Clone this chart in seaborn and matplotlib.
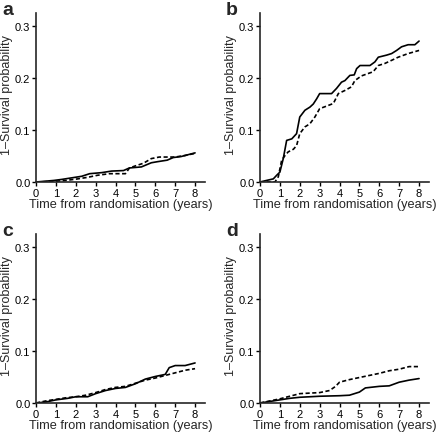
import matplotlib
matplotlib.use("Agg")
import matplotlib.pyplot as plt
import seaborn as sns

# survival curves: time (years) and 1-survival, solid and dashed groups
a_solid_t = [0, 0.9, 1.3, 1.8, 2.3, 2.7, 3.3, 3.8, 4.4, 4.7, 5.3, 5.8, 6.1, 6.6, 6.9, 7.3, 7.7, 8.0]
a_solid_v = [0, 0.003, 0.005, 0.008, 0.011, 0.016, 0.018, 0.021, 0.022, 0.027, 0.029, 0.037, 0.039, 0.042, 0.047, 0.049, 0.053, 0.056]
a_dash_t = [0, 0.9, 1.5, 2.1, 2.6, 3.1, 3.7, 4.5, 4.7, 5.0, 5.4, 5.8, 6.2, 7.0, 7.5, 8.0]
a_dash_v = [0, 0.001, 0.003, 0.006, 0.009, 0.013, 0.016, 0.016, 0.027, 0.031, 0.036, 0.045, 0.048, 0.048, 0.051, 0.055]

b_solid_t = [0, 0.33, 0.67, 0.84, 1.0, 1.17, 1.34, 1.6, 1.84, 2.0, 2.26, 2.51, 2.68, 2.85, 3.0, 3.6, 3.85,
             4.1, 4.27, 4.52, 4.74, 4.86, 5.03, 5.53, 5.78, 5.95, 6.37, 6.62, 6.87, 7.12, 7.45, 7.79, 8.0]
b_solid_v = [0, 0.003, 0.006, 0.013, 0.019, 0.045, 0.08, 0.083, 0.093, 0.125, 0.138, 0.144, 0.15, 0.16, 0.17,
             0.17, 0.18, 0.192, 0.195, 0.205, 0.206, 0.218, 0.224, 0.224, 0.231, 0.24, 0.244, 0.247, 0.253,
             0.26, 0.264, 0.264, 0.271]
b_dash_t = [0, 0.75, 0.92, 1.09, 1.26, 1.42, 1.68, 1.84, 2.0, 2.26, 2.51, 2.76, 3.0, 3.35, 3.69, 3.94, 4.27,
            4.6, 4.77, 5.1, 5.69, 5.95, 6.28, 6.62, 6.95, 7.45, 8.0]
b_dash_v = [0, 0, 0.01, 0.042, 0.051, 0.058, 0.063, 0.07, 0.093, 0.106, 0.112, 0.125, 0.141, 0.146, 0.151,
            0.17, 0.176, 0.183, 0.195, 0.204, 0.212, 0.224, 0.228, 0.234, 0.24, 0.247, 0.253]

c_solid_t = [0, 0.5, 1.0, 1.6, 2.0, 2.6, 3.0, 3.5, 4.0, 4.5, 5.0, 5.5, 6.0, 6.5, 6.7, 7.0, 7.5, 8.0]
c_solid_v = [0, 0.002, 0.006, 0.009, 0.012, 0.012, 0.018, 0.024, 0.028, 0.03, 0.037, 0.046, 0.051, 0.055, 0.068, 0.072, 0.072, 0.077]
c_dash_t = [0, 0.5, 1.0, 1.5, 2.0, 2.5, 3.0, 3.5, 4.0, 4.5, 5.0, 5.5, 6.0, 6.5, 7.0, 7.5, 8.0]
c_dash_v = [0, 0.004, 0.007, 0.01, 0.012, 0.015, 0.02, 0.026, 0.03, 0.032, 0.038, 0.044, 0.048, 0.053, 0.058, 0.063, 0.066]

d_solid_t = [0, 0.5, 1.0, 1.5, 2.0, 3.0, 4.0, 4.5, 5.0, 5.3, 6.0, 6.5, 7.0, 7.5, 8.0]
d_solid_v = [0, 0.003, 0.006, 0.009, 0.011, 0.013, 0.014, 0.015, 0.021, 0.029, 0.032, 0.033, 0.04, 0.044, 0.047]
d_dash_t = [0, 0.5, 1.0, 1.5, 2.0, 3.0, 3.5, 3.8, 4.0, 4.5, 5.0, 5.5, 6.0, 6.5, 7.0, 7.5, 8.0]
d_dash_v = [0, 0.004, 0.008, 0.013, 0.018, 0.02, 0.024, 0.032, 0.04, 0.045, 0.049, 0.053, 0.057, 0.062, 0.065, 0.07, 0.07]

panels = ['a', 'b', 'c', 'd']
solid = [(a_solid_t, a_solid_v), (b_solid_t, b_solid_v), (c_solid_t, c_solid_v), (d_solid_t, d_solid_v)]
dashed = [(a_dash_t, a_dash_v), (b_dash_t, b_dash_v), (c_dash_t, c_dash_v), (d_dash_t, d_dash_v)]

sns.set_style('ticks')
plt.rcParams['font.family'] = ['Liberation Sans', 'DejaVu Sans']

fig = plt.figure(figsize=(4.4, 4.35), dpi=100)
W, H = 440, 435
# axes boxes in pixels: left edge, y of the x-axis from the top
boxes = [(36, 183), (260, 183), (36, 404), (260, 404)]
aw, ah = 169, 169

for i, p in enumerate(panels):
    left, bottom = boxes[i]
    ax = fig.add_axes([left / W, 1 - bottom / H, aw / W, ah / H])
    st, sv = solid[i]
    dt, dv = dashed[i]
    sns.lineplot(x=st, y=sv, ax=ax, color='black', lw=1.2, estimator=None, sort=False)
    sns.lineplot(x=dt, y=dv, ax=ax, color='black', lw=1.2,
                 linestyle=(0, (2.5, 1.5)), estimator=None, sort=False)
    ax.set_xlim(0, 8.5)
    ax.set_ylim(0, 0.325)
    ax.set_xticks(range(9))
    ax.set_yticks([0, 0.1, 0.2, 0.3])
    ax.set_yticklabels(['0.0', '0.1', '0.2', '0.3'])
    sns.despine(ax=ax)
    for s in ['left', 'bottom']:
        ax.spines[s].set_linewidth(1.2)
    ax.tick_params(length=3, width=1, pad=1, labelsize=8, colors='black')
    ax.set_xlabel('Time from randomisation (years)', fontsize=9.2, labelpad=0)
    ax.set_ylabel('1\u2013Survival probability', fontsize=9)
    ax.yaxis.set_label_coords(-0.135, 0.52)
    fig.text((left - 34) / W, 1 - (bottom - 169 - 12) / H, p, fontsize=14, fontweight='bold',
             ha='left', va='top')

fig.savefig('out.png', dpi=100)
